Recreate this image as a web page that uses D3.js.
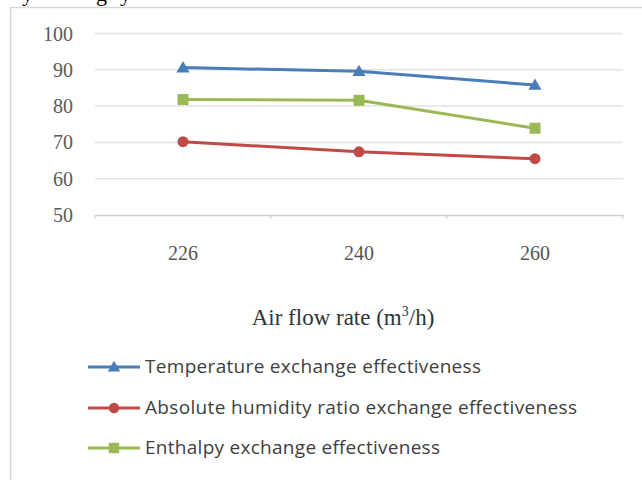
<!DOCTYPE html>
<html>
<head>
<meta charset="utf-8">
<script src="https://cdn.jsdelivr.net/npm/d3@7"></script>
<style>
  body { margin: 0; background: #fff; }
  svg { display: block; }
</style>
</head>
<body>
<div id="chart"></div>
<script>
// data
var flowRates = ["226", "240", "260"];
var tempEff = [90.6, 89.6, 85.8];
var humidityEff = [70.2, 67.4, 65.5];
var enthalpyEff = [81.8, 81.6, 73.9];
var yTicks = [50, 60, 70, 80, 90, 100];
var seriesNames = ["Temperature exchange effectiveness",
                   "Absolute humidity ratio exchange effectiveness",
                   "Enthalpy exchange effectiveness"];

var series = [
  {name: seriesNames[0], values: tempEff, color: "#4a7ebb", marker: "triangle"},
  {name: seriesNames[1], values: humidityEff, color: "#be4b48", marker: "circle"},
  {name: seriesNames[2], values: enthalpyEff, color: "#98b954", marker: "square"}
];

var width = 642, height = 480;
var plot = {left: 95, right: 623, top: 33.5, bottom: 215};

var svg = d3.select("#chart").append("svg")
    .attr("width", width)
    .attr("height", height);

// fragments of the text line above the figure
svg.selectAll("text.cut")
    .data([{c: "y", x: 22}, {c: "g", x: 96}, {c: "y", x: 120}])
  .enter().append("text")
    .attr("class", "cut")
    .attr("x", function(d) { return d.x; })
    .attr("y", 1)
    .attr("font-family", "Liberation Serif, serif")
    .attr("font-size", 22)
    .attr("fill", "#000")
    .text(function(d) { return d.c; });

// chart frame
svg.append("rect")
    .attr("x", 10.5).attr("y", 7.5)
    .attr("width", 640).attr("height", 480)
    .attr("fill", "#fff")
    .attr("stroke", "#d9d9d9")
    .attr("stroke-width", 1.5);

var x = d3.scaleBand()
    .domain(flowRates)
    .range([plot.left, plot.right]);

var y = d3.scaleLinear()
    .domain([50, 100])
    .range([plot.bottom, plot.top]);

// gridlines
svg.append("g")
  .selectAll("line")
    .data(yTicks.filter(function(d) { return d > 50; }))
  .enter().append("line")
    .attr("x1", plot.left).attr("x2", plot.right)
    .attr("y1", function(d) { return y(d); })
    .attr("y2", function(d) { return y(d); })
    .attr("stroke", "#e3e3e3")
    .attr("stroke-width", 1.5);

// y axis labels
svg.append("g")
  .selectAll("text")
    .data(yTicks)
  .enter().append("text")
    .attr("x", 73)
    .attr("y", function(d) { return y(d) + 7; })
    .attr("text-anchor", "end")
    .attr("font-family", "Liberation Serif, serif")
    .attr("font-size", 20)
    .attr("fill", "#5a5a5a")
    .text(function(d) { return d; });

// x axis
var xAxis = svg.append("g")
    .attr("transform", "translate(0," + plot.bottom + ")")
    .call(d3.axisBottom(x).tickSize(0).tickPadding(0).tickFormat(""));
xAxis.select(".domain").attr("stroke", "#d0d0d0").attr("stroke-width", 1.5);
xAxis.selectAll(".tick").remove();

xAxis.selectAll("line.sep")
    .data(flowRates.map(function(d) { return x(d); }).concat([plot.right]))
  .enter().append("line")
    .attr("class", "sep")
    .attr("x1", function(d) { return d; })
    .attr("x2", function(d) { return d; })
    .attr("y1", 0).attr("y2", 4)
    .attr("stroke", "#d0d0d0");

svg.append("g")
  .selectAll("text")
    .data(flowRates)
  .enter().append("text")
    .attr("x", function(d) { return x(d) + x.bandwidth() / 2; })
    .attr("y", 260)
    .attr("text-anchor", "middle")
    .attr("font-family", "Liberation Serif, serif")
    .attr("font-size", 20)
    .attr("fill", "#555")
    .text(function(d) { return d; });

// axis title
var title = svg.append("text")
    .attr("x", 343)
    .attr("y", 325)
    .attr("text-anchor", "middle")
    .attr("font-family", "Liberation Serif, serif")
    .attr("font-size", 23)
    .attr("fill", "#333");
title.append("tspan").text("Air flow rate (m");
title.append("tspan").attr("font-size", 14).attr("dy", -9).text("3");
title.append("tspan").attr("dy", 9).text("/h)");

var line = d3.line()
    .x(function(d, i) { return x(flowRates[i]) + x.bandwidth() / 2; })
    .y(function(d) { return y(d); });

function drawMarker(g, type, color, cx, cy, k) {
  k = k || 1;
  if (type === "triangle") {
    g.append("path")
      .attr("d", d3.symbol(d3.symbolTriangle, 75 * k * k)())
      .attr("transform", "translate(" + cx + "," + (cy + 1) + ")")
      .attr("fill", color);
  } else if (type === "circle") {
    g.append("circle")
      .attr("cx", cx).attr("cy", cy).attr("r", 5.5 * k)
      .attr("fill", color);
  } else {
    g.append("rect")
      .attr("x", cx - 5.5 * k).attr("y", cy - 5.5 * k)
      .attr("width", 11 * k).attr("height", 11 * k)
      .attr("fill", color);
  }
}

series.forEach(function(s) {
  var g = svg.append("g");
  g.append("path")
    .datum(s.values)
    .attr("d", line)
    .attr("fill", "none")
    .attr("stroke", s.color)
    .attr("stroke-width", 3);
  s.values.forEach(function(v, i) {
    drawMarker(g, s.marker, s.color, x(flowRates[i]) + x.bandwidth() / 2, y(v));
  });
});

// legend
var legendY = [367, 408, 448];
var legendWidth = [336, 432, 295];
series.forEach(function(s, i) {
  var g = svg.append("g");
  g.append("line")
    .attr("x1", 88).attr("x2", 140)
    .attr("y1", legendY[i]).attr("y2", legendY[i])
    .attr("stroke", s.color)
    .attr("stroke-width", 3);
  drawMarker(g, s.marker, s.color, 114, legendY[i], 0.95);
  g.append("text")
    .attr("x", 145)
    .attr("y", legendY[i] + 6)
    .attr("font-family", "Open Sans, sans-serif")
    .attr("font-size", 19)
    .attr("fill", "#404040")
    .attr("textLength", legendWidth[i])
    .attr("lengthAdjust", "spacing")
    .text(s.name);
});
</script>
</body>
</html>
